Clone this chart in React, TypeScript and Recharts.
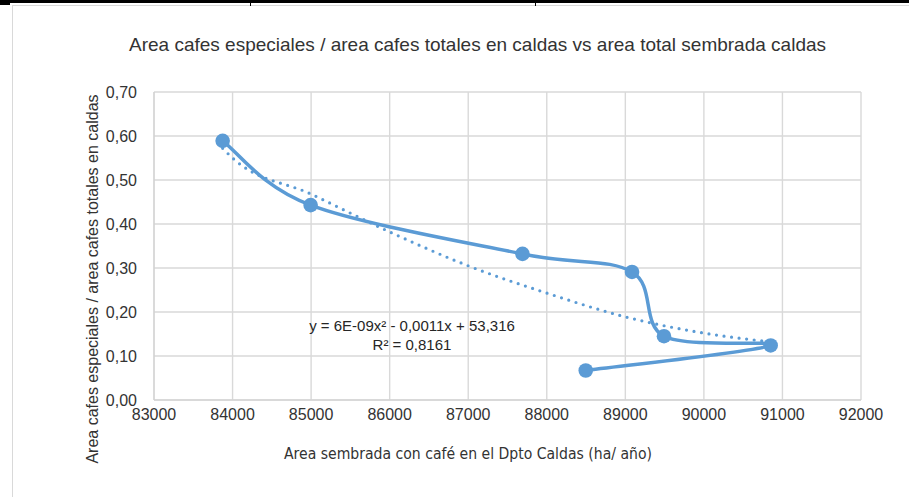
import React from 'react'
import { ScatterChart, Scatter, XAxis, YAxis, CartesianGrid } from 'recharts'

// puntos observados (en el orden en que Excel los une)
const areaSembrada = [83874, 84994, 87691, 89085, 89492, 90850, 88496]
const proporcionEspeciales = [0.589, 0.443, 0.332, 0.291, 0.145, 0.124, 0.067]

// linea de tendencia polinomica
const tendenciaX = [83874, 84000, 85000, 86000, 87000, 88000, 89000, 90000, 90850]
const tendenciaY = [0.572, 0.55, 0.468, 0.382, 0.305, 0.243, 0.189, 0.152, 0.132]

const xTicks = [83000, 84000, 85000, 86000, 87000, 88000, 89000, 90000, 91000, 92000]
const yTicks = [0, 0.1, 0.2, 0.3, 0.4, 0.5, 0.6, 0.7]

const ecuacion = 'y = 6E-09x² - 0,0011x + 53,316'
const r2 = 'R² = 0,8161'

const AZUL = '#5B9BD5'
const FONT = '"Liberation Sans", Arial, sans-serif'
const TEXTO = '#333333'

const puntos = areaSembrada.map((x, i) => ({ x, y: proporcionEspeciales[i] }))
const tendencia = tendenciaX.map((x, i) => ({ x, y: tendenciaY[i] }))

// suavizado tipo Excel (Catmull-Rom), como CurveFactory para Recharts
function suavizado(context: any) {
  let pts: number[][] = []
  return {
    areaStart() {},
    areaEnd() {},
    lineStart() {
      pts = []
    },
    point(x: number, y: number) {
      pts.push([+x, +y])
    },
    lineEnd() {
      if (!pts.length) return
      context.moveTo(pts[0][0], pts[0][1])
      for (let i = 0; i < pts.length - 1; i++) {
        const p0 = pts[Math.max(i - 1, 0)]
        const p1 = pts[i]
        const p2 = pts[i + 1]
        const p3 = pts[Math.min(i + 2, pts.length - 1)]
        context.bezierCurveTo(
          p1[0] + (p2[0] - p0[0]) / 6,
          p1[1] + (p2[1] - p0[1]) / 6,
          p2[0] - (p3[0] - p1[0]) / 6,
          p2[1] - (p3[1] - p1[1]) / 6,
          p2[0],
          p2[1],
        )
      }
    },
  }
}

const fmtY = (v: number) => v.toFixed(2).replace('.', ',')

export default function App() {
  return (
    <div style={{ position: 'fixed', left: 0, top: 0, width: 909, height: 497, background: '#fff', overflow: 'hidden', fontFamily: FONT }}>
      {/* borde del area del grafico */}
      <div style={{ position: 'absolute', left: 12, top: 5, width: 920, height: 520, border: '1px solid #d9d9d9' }} />

      <div style={{ position: 'absolute', left: 0, top: 34, width: 955, textAlign: 'center', fontSize: 19, color: TEXTO }}>
        Area cafes especiales / area cafes totales en caldas vs area total sembrada caldas
      </div>

      <div style={{ position: 'absolute', left: 0, top: 0 }}>
        <ScatterChart width={909} height={497} margin={{ top: 92, right: 48, bottom: 67, left: 94 }}>
          <CartesianGrid stroke="#d9d9d9" strokeWidth={1.4} />
          <XAxis
            type="number"
            dataKey="x"
            domain={[83000, 92000]}
            ticks={xTicks}
            allowDataOverflow
            height={30}
            stroke="#d0d0d0"
            tickLine={false}
            tickMargin={3}
            tick={{ fill: TEXTO, fontSize: 16, fontFamily: FONT }}
          />
          <YAxis
            type="number"
            dataKey="y"
            domain={[0, 0.7]}
            ticks={yTicks}
            width={60}
            stroke="#d0d0d0"
            tickLine={false}
            tickMargin={11}
            tickFormatter={fmtY}
            tick={{ fill: TEXTO, fontSize: 16, fontFamily: FONT }}
          />
          <Scatter
            data={puntos}
            fill={AZUL}
            line={{ stroke: AZUL, strokeWidth: 3.5 }}
            lineJointType={suavizado as any}
            shape={(p: any) => <circle cx={p.cx} cy={p.cy} r={7.3} fill={AZUL} />}
            isAnimationActive={false}
          />
          <Scatter
            data={tendencia}
            fill={AZUL}
            line={{ stroke: AZUL, strokeWidth: 3.2, strokeDasharray: '0 7.6', strokeLinecap: 'round' }}
            lineJointType="monotoneX"
            shape={() => <g />}
            isAnimationActive={false}
          />
        </ScatterChart>
      </div>

      <div style={{ position: 'absolute', left: 262, top: 316, width: 300, textAlign: 'center', fontSize: 15, lineHeight: '19px', color: '#262626' }}>
        <div>{ecuacion}</div>
        <div>{r2}</div>
      </div>

      <div
        style={{
          position: 'absolute',
          left: 93 - 220,
          top: 279 - 10,
          width: 440,
          height: 20,
          lineHeight: '20px',
          textAlign: 'center',
          fontSize: 16,
          color: TEXTO,
          transform: 'rotate(-90deg)',
        }}
      >
        Area cafes especiales / area cafes totales en caldas
      </div>

      <div
        style={{
          position: 'absolute',
          left: 268,
          top: 445,
          width: 400,
          textAlign: 'center',
          fontSize: 15.6,
          color: TEXTO,
          fontFamily: '"Liberation Sans Narrow", "DejaVu Sans Condensed", Arial, sans-serif',
        }}
      >
        Area sembrada con café en el Dpto Caldas (ha/ año)
      </div>

      {/* bordes de la tabla del documento */}
      <div style={{ position: 'absolute', left: 0, top: 0, width: 909, height: 3, background: '#000' }} />
      <div style={{ position: 'absolute', left: 250, top: 0, width: 1, height: 6, background: '#000' }} />
      <div style={{ position: 'absolute', left: 535, top: 0, width: 1, height: 6, background: '#000' }} />
      <div style={{ position: 'absolute', left: 0, top: 3, width: 10, height: 2, background: '#000' }} />
    </div>
  )
}
